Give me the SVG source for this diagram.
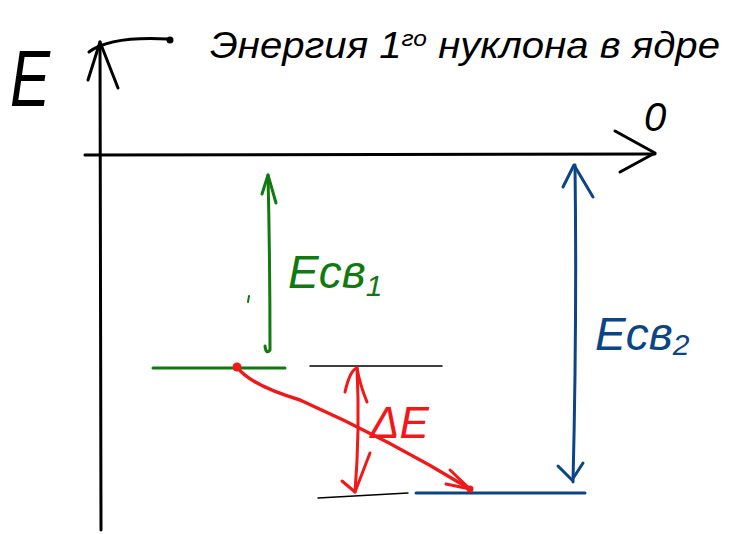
<svg xmlns="http://www.w3.org/2000/svg" width="729" height="534" viewBox="0 0 729 534">
<style>
.s{fill:none;stroke-linecap:round;stroke-linejoin:round}
.k{stroke:#000}
.g{stroke:#107a10}
.b{stroke:#0c4585}
.r{stroke:#f01818}
.t{font-family:"Liberation Sans",Arial,sans-serif;font-style:italic}
</style>
<rect width="729" height="534" fill="#fff"/>
<g id="axes">
<path class="s k" stroke-width="3" d="M101,530 L100,42"/>
<path class="s k" stroke-width="3" d="M88,80 L100,42 L118,88"/>
<path class="s k" stroke-width="3" d="M85,155 L655,154"/>
<path class="s k" stroke-width="3" d="M615,131 L655,153 L620,172"/>
<path class="s k" stroke-width="3" d="M89,52 Q110,36 168,39"/>
<circle cx="170" cy="40" r="3.5" fill="#000"/>
<text class="t" x="0" y="0" font-size="80" fill="#000" transform="translate(10,106) scale(0.75,1)">E</text>
<text class="t" x="644" y="131" font-size="40" fill="#000">0</text>
<text class="t" x="210" y="58" font-size="36" fill="#000" textLength="510" lengthAdjust="spacingAndGlyphs">Энергия 1<tspan font-size="22" dy="-12">го</tspan><tspan dy="12"> нуклона в ядре</tspan></text>
</g>
<g id="levels">
<path class="s g" stroke-width="3" d="M153,368 L285,368"/>
<path class="s k" stroke-width="1.5" d="M310,366 L442,366"/>
<path class="s k" stroke-width="1.5" d="M318,498 L408,493"/>
<path class="s b" stroke-width="3" d="M416,493 L585,493"/>
<circle cx="237" cy="367" r="4.5" fill="#f01818"/>
<circle cx="470" cy="489" r="3.5" fill="#f01818"/>
</g>
<g id="connectors">
<path class="s g" stroke-width="3" d="M268,175 Q270,260 270,350 Q266,355 265,346"/>
<path class="s g" stroke-width="3" d="M262,194 L268,175 L276,203"/>
<path class="s g" stroke-width="2" d="M249,296 L248,302"/>
<path class="s r" stroke-width="3" d="M357,368 Q360,430 355,492"/>
<path class="s r" stroke-width="3" d="M345,392 Q350,370 357,368 Q360,385 367,402"/>
<path class="s r" stroke-width="3" d="M342,481 L355,492 L370,453"/>
<path class="s r" stroke-width="3.5" d="M237,367 Q250,385 300,400 Q390,440 470,489"/>
<path class="s r" stroke-width="3" d="M450,470 L470,489 L446,484"/>
<path class="s b" stroke-width="3" d="M575,165 Q577,320 573,482"/>
<path class="s b" stroke-width="3" d="M563,187 L574,165 L593,197"/>
<path class="s b" stroke-width="3" d="M558,466 L572,480 L583,463"/>
</g>
<g id="labels">
<text class="t" x="288" y="288" font-size="46" fill="#107a10">Eсв<tspan font-size="30" dy="8">1</tspan></text>
<text class="t" x="595" y="350" font-size="46" fill="#0c4585">Eсв<tspan font-size="30" dy="5">2</tspan></text>
<text class="t" x="370" y="438" font-size="44" fill="#f01818">ΔE</text>
</g>
</svg>
